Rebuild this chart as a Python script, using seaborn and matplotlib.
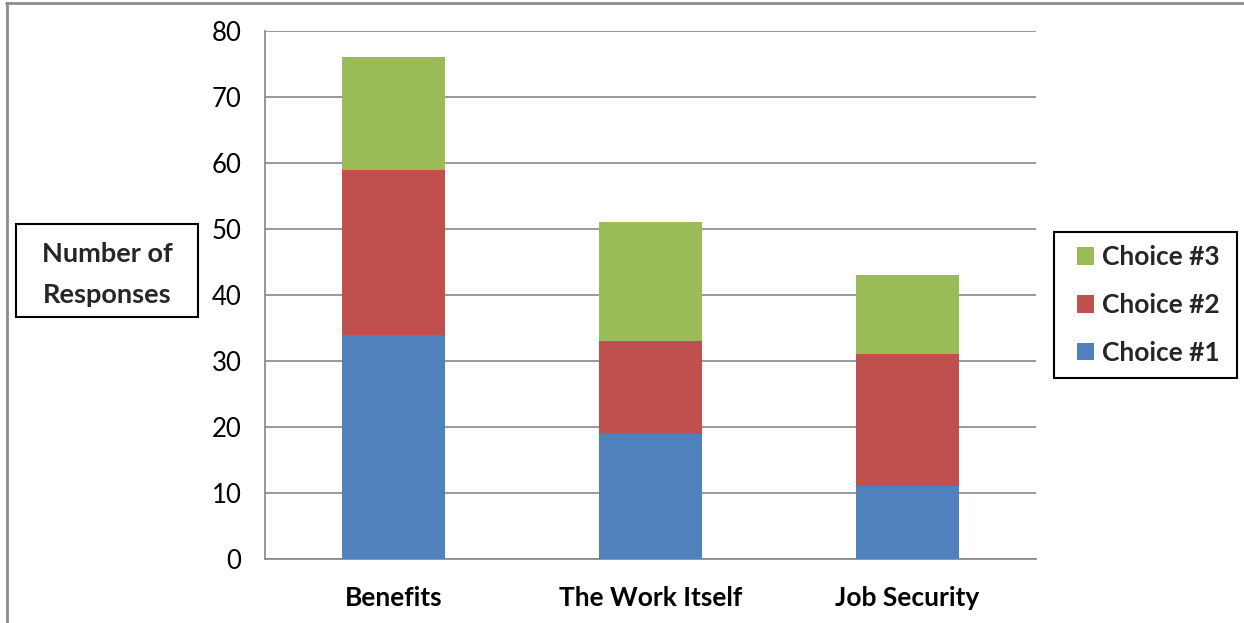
import matplotlib
matplotlib.use("Agg")
import matplotlib.pyplot as plt
import seaborn as sns
import numpy as np
from matplotlib.patches import Patch, Rectangle
from matplotlib.lines import Line2D

categories = ["Benefits", "The Work Itself", "Job Security"]
choice1 = [34, 19, 11]
choice2 = [25, 14, 20]
choice3 = [17, 18, 12]
series_names = ["Choice #1", "Choice #2", "Choice #3"]
colors = ["#4F81BD", "#C0504D", "#9BBB59"]
yticks = [0, 10, 20, 30, 40, 50, 60, 70, 80]

sns.set_theme(style="white")
plt.rcParams['font.family'] = ['Lato', 'DejaVu Sans']

fig = plt.figure(figsize=(12.44, 6.23), dpi=100)
ax = fig.add_axes([265/1244, 1-559/623, (1036-265)/1244, (559-31)/623])

layers = [choice1, choice2, choice3]
cum = np.cumsum(np.array(layers), axis=0)
# draw from top layer down so lower segments overlay
for i in reversed(range(3)):
    sns.barplot(x=categories, y=cum[i], color=colors[i], width=0.4,
                saturation=1, ax=ax, zorder=3, linewidth=0)

grid_c = "#868686"
ax.set_ylim(0, 80)
ax.set_xlim(-0.5, 2.5)
ax.set_yticks(yticks)
ax.yaxis.grid(True, color=grid_c, linewidth=1.2, zorder=0)
ax.set_axisbelow(True)
for s in ["top", "right"]:
    ax.spines[s].set_visible(False)
for s in ["left", "bottom"]:
    ax.spines[s].set_color(grid_c)
    ax.spines[s].set_linewidth(1.2)
ax.tick_params(axis='y', length=0, pad=17, labelsize=18.5, labelcolor='black')
ax.tick_params(axis='x', which='major', length=0, pad=19.5, labelsize=19, labelcolor='black')
ax.set_xticks([-0.5, 0.5, 1.5, 2.5], minor=True)
ax.tick_params(axis='x', which='minor', length=6, color=grid_c, width=1.2, direction='out')
for lab in ax.get_xticklabels():
    lab.set_fontweight('bold')
ax.set_xlabel("")
ax.set_ylabel("")

# outer frame (top and left)
fig.add_artist(Line2D([6/1244, 1], [1-3/623, 1-3/623], transform=fig.transFigure,
                      color="#8c8c8c", linewidth=2))
fig.add_artist(Line2D([7/1244, 7/1244], [0, 1-3/623], transform=fig.transFigure,
                      color="#8c8c8c", linewidth=2))

# y label box
fig.add_artist(Rectangle((16/1244, 1-317/623), (198-16)/1244, (317-224)/623,
                         transform=fig.transFigure, fill=False, edgecolor='black', linewidth=1.5))
fig.text(107/1244, 1-274/623, "Number of\nResponses", ha='center', va='center',
         fontsize=19.5, fontweight='bold', linespacing=1.85)

# legend box
fig.add_artist(Rectangle((1054/1244, 1-378/623), (1237-1054)/1244, (378-232)/623,
                         transform=fig.transFigure, fill=False, edgecolor='black', linewidth=1.5))
handles = [Patch(facecolor=colors[i], edgecolor='none', label=series_names[i]) for i in reversed(range(3))]
leg = fig.legend(handles=handles, loc='center left', bbox_to_anchor=(1077/1244, 1-305/623),
                 frameon=False, fontsize=19,
                 handlelength=0.65, handleheight=0.65, handletextpad=0.3,
                 labelspacing=0.9, borderpad=0, borderaxespad=0)
for t in leg.get_texts():
    t.set_fontweight('bold')

fig.savefig("out.png", dpi=100, facecolor='white')
